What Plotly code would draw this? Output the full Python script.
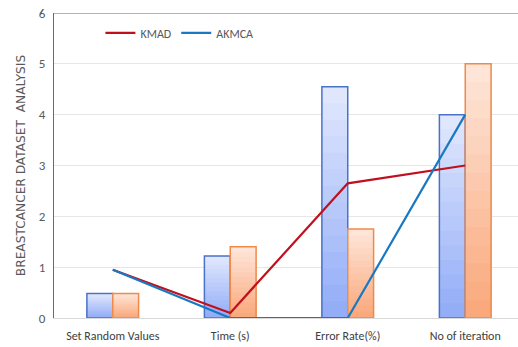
import plotly.graph_objects as go

categories = ["Set Random Values", "Time (s)", "Error Rate(%)", "No of iteration"]
bar_blue = [0.48, 1.22, 4.55, 4.0]
bar_orange = [0.48, 1.40, 1.75, 5.0]
kmad = [0.95, 0.10, 2.65, 3.0]
akmca = [0.95, 0.0, 0.0, 4.0]
y_ticks = [0, 1, 2, 3, 4, 5, 6]

FONT = "Carlito, DejaVu Sans Condensed, sans-serif"


def hex2rgb(h):
    h = h.lstrip("#")
    return tuple(int(h[i:i + 2], 16) for i in (0, 2, 4))


def lerp(c1, c2, t):
    a, b = hex2rgb(c1), hex2rgb(c2)
    return "rgb(%d,%d,%d)" % tuple(round(a[k] + (b[k] - a[k]) * t) for k in range(3))


fig = go.Figure()
N = 14
W = 0.22
series = [
    (bar_blue, -W, "#e0e7fd", "#93adf7", "#4a72c9"),
    (bar_orange, 0.0, "#fee5d8", "#f9a97c", "#ef8a4a"),
]
for vals, off, ctop, cbot, cedge in series:
    for i in range(N):
        frac = 1 - i / N
        fig.add_trace(go.Bar(
            x=categories, y=[v * frac for v in vals], offset=off, width=W,
            marker=dict(color=lerp(ctop, cbot, i / (N - 1)), line=dict(width=0)),
            showlegend=False, hoverinfo="skip"))
    fig.add_trace(go.Bar(
        x=categories, y=vals, offset=off, width=W,
        marker=dict(color="rgba(0,0,0,0)", line=dict(color=cedge, width=1.5)),
        showlegend=False))

fig.add_trace(go.Scatter(x=categories, y=kmad, mode="lines", name="KMAD",
                         line=dict(color="#c0101e", width=2.2)))
fig.add_trace(go.Scatter(x=categories, y=akmca, mode="lines", name="AKMCA",
                         line=dict(color="#1a78c2", width=2.2)))

fig.add_shape(type="line", xref="paper", x0=0, x1=1, yref="y", y0=6, y1=6,
              line=dict(color="#6b6b6b", width=1.2))

fig.update_layout(
    width=518, height=347,
    margin=dict(l=54, r=0, t=13, b=29),
    barmode="overlay",
    plot_bgcolor="white", paper_bgcolor="white",
    font=dict(family=FONT, size=12, color="#595959"),
    legend=dict(orientation="h", x=0.1, y=0.935, xanchor="left", yanchor="middle",
                font=dict(family=FONT, size=12, color="#595959"),
                bgcolor="rgba(0,0,0,0)", itemwidth=30, tracegroupgap=0),
    xaxis=dict(type="category", range=[-0.5, 3.449], showgrid=False,
               showline=True, linecolor="#d9d9d9", linewidth=1, ticks="",
               tickfont=dict(family=FONT, size=12, color="#404040"),
               ticklabelstandoff=7),
    yaxis=dict(range=[0, 6], tickvals=y_ticks, showgrid=True, gridcolor="#e6e6e6",
               gridwidth=1, showline=True, linecolor="#6b6b6b", linewidth=1.2,
               zeroline=False, ticks="", ticklabelstandoff=5,
               tickfont=dict(family=FONT, size=13, color="#595959"),
               title=dict(text="BREASTCANCER DATASET  ANALYSIS", standoff=10,
                          font=dict(family="DejaVu Sans", size=12.2, color="#595959"))),
)

fig.write_html("out.html")
